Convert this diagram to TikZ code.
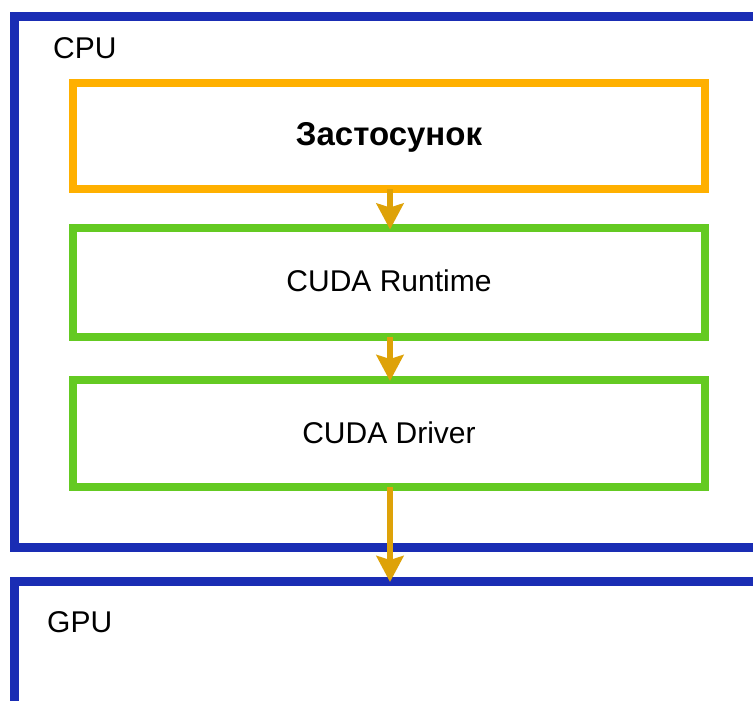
\documentclass[tikz,border=0pt]{standalone}
\usepackage{fontspec}
\setmainfont{Liberation Sans}
\usetikzlibrary{arrows.meta}
\definecolor{cpublue}{RGB}{26,45,180}
\definecolor{apporange}{RGB}{255,176,0}
\definecolor{cudagreen}{RGB}{100,202,34}
\definecolor{arrowgold}{RGB}{222,162,8}
\tikzset{
  hostbox/.style={draw=cpublue, line width=9pt},
  appbox/.style={draw=apporange, line width=8pt, outer sep=0pt, minimum width=632pt, inner sep=0pt},
  layerbox/.style={draw=cudagreen, line width=8pt, outer sep=0pt, minimum width=632pt, inner sep=0pt},
  flow/.style={draw=arrowgold, line width=6pt, -{Stealth[width=27pt,length=26pt,inset=4pt]}},
  biglabel/.style={font=\fontsize{30}{36}\selectfont, inner sep=0pt},
  layerlabel/.style={font=\fontsize{30}{36}\selectfont},
}
\begin{document}
\begin{tikzpicture}[x=1pt,y=-1pt]
\useasboundingbox (0,0) rectangle (753,701);
\clip (0,0) rectangle (753,701);
% host boxes
\draw[hostbox] (14,16.5) rectangle (790,547.5);
\draw[hostbox] (14,581) rectangle (790,740);
\coordinate (gputop) at (390,581);
\node[biglabel, anchor=base west] (cpu) at (53,59) {CPU};
\node[biglabel, anchor=base west] (gpu) at (47,632) {GPU};
% layers
\node[appbox, minimum height=106pt] (app) at (389,136) {};
\node[layerbox, minimum height=109pt] (rt) at (389,282) {};
\node[layerbox, minimum height=107pt] (drv) at (389,433.5) {};
\node[font=\bfseries\fontsize{33}{40}\selectfont, anchor=base] (apptext) at (389,146) {Застосунок};
\node[layerlabel, anchor=base] (rttext) at (389,291) {CUDA Runtime};
\node[layerlabel, anchor=base] (drvtext) at (389,443) {CUDA Driver};
% arrows
\draw[flow] ([xshift=1pt]app.south) -- ([xshift=1pt,yshift=-2pt]rt.north);
\draw[flow] ([xshift=1pt]rt.south) -- ([xshift=1pt,yshift=-1pt]drv.north);
\draw[flow] ([xshift=1pt]drv.south) -- ([yshift=-1pt]gputop);
\end{tikzpicture}
\end{document}
